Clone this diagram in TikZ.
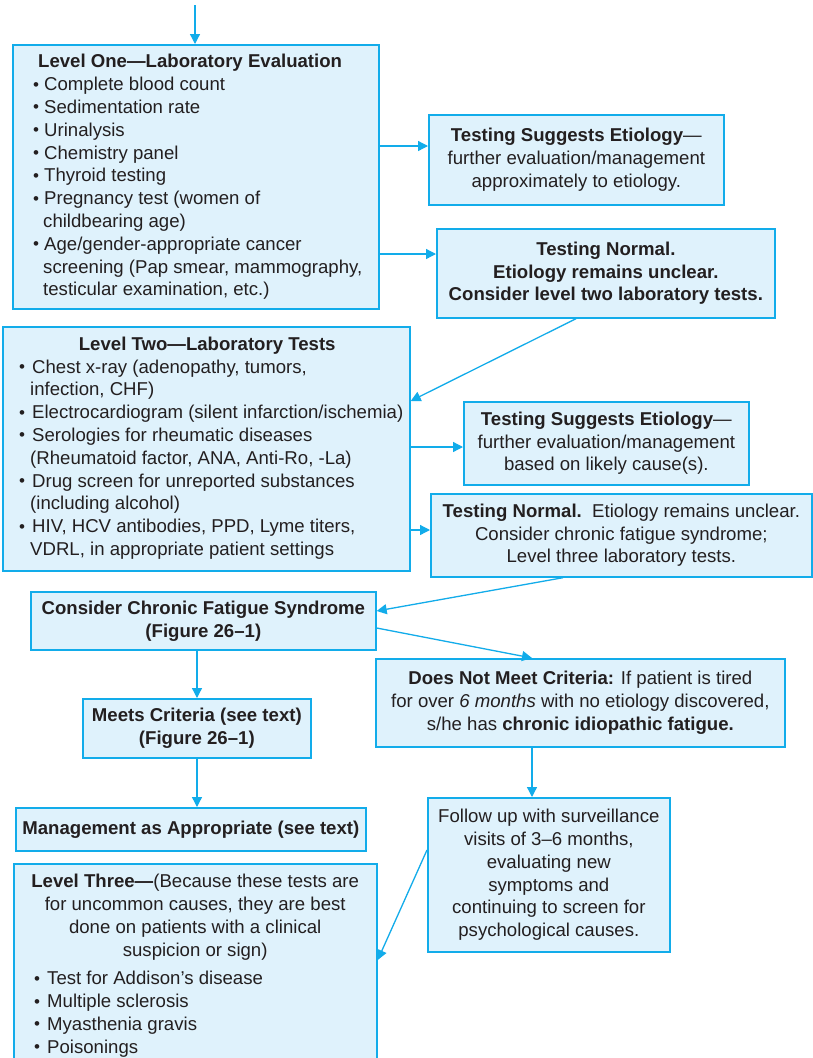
\documentclass[tikz,border=0pt]{standalone}
\usepackage{fontspec}
\setmainfont{Liberation Sans}
\usetikzlibrary{arrows.meta}
\definecolor{cyanB}{HTML}{12ACEA}
\definecolor{fillB}{HTML}{DFF2FC}
\definecolor{ink}{HTML}{231F20}
\newcommand{\bul}[1][11pt]{\makebox[#1][l]{\raisebox{0.6pt}{\fontsize{17}{17}\selectfont •}}}
\begin{document}
\begin{tikzpicture}[x=1pt,y=-1pt,
  every node/.style={font=\fontsize{18.6}{22.8}\selectfont, text=ink},
  box/.style={draw=cyanB, fill=fillB, line width=1.7pt, inner sep=0pt, anchor=north west, align=center},
  txt/.style={inner sep=0pt, align=left},
  arr/.style={draw=cyanB, line width=1.3pt, -{Triangle[length=10pt,width=10pt]}}]
\fill[white] (0,0) rectangle (813,1058);
\useasboundingbox (0,0) rectangle (813,1058);

% boxes
\node[box, minimum width=366pt, minimum height=264pt] (L1) at (12,44) {};
\node[txt, anchor=west] (L1t) at (33,177) {%
\hspace*{5pt}\textbf{Level One—Laboratory Evaluation}\\
\bul Complete blood count\\
\bul Sedimentation rate\\
\bul Urinalysis\\
\bul Chemistry panel\\
\bul Thyroid testing\\
\bul Pregnancy test (women of\\
\hspace*{10pt}childbearing age)\\
\bul Age/gender-appropriate cancer\\
\hspace*{10pt}screening (Pap smear, mammography,\\
\hspace*{10pt}testicular examination, etc.)};

\node[box, minimum width=295pt, minimum height=90pt] (TSE1) at (428,114)
  {\textbf{Testing Suggests Etiology}—\\further evaluation/management\\approximately to etiology.};
\node[box, minimum width=338pt, minimum height=89pt, font=\fontsize{18.6}{22.8}\selectfont\bfseries] (TN1) at (436,228)
  {Testing Normal.\\Etiology remains unclear.\\Consider level two laboratory tests.};

\node[box, minimum width=407pt, minimum height=244pt] (L2) at (2,326) {};
\node[txt, anchor=west] (L2t) at (19,448) {%
\makebox[376pt][c]{\textbf{Level Two—Laboratory Tests}}\\
\bul[13pt]Chest x-ray (adenopathy, tumors,\\
\hspace*{11pt}infection, CHF)\\
\bul[13pt]Electrocardiogram (silent infarction/ischemia)\\
\bul[13pt]Serologies for rheumatic diseases\\
\hspace*{11pt}(Rheumatoid factor, ANA, Anti-Ro, -La)\\
\bul[13pt]Drug screen for unreported substances\\
\hspace*{11pt}(including alcohol)\\
\bul[13pt]HIV, HCV antibodies, PPD, Lyme titers,\\
\hspace*{11pt}VDRL, in appropriate patient settings};

\node[box, minimum width=285pt, minimum height=83pt] (TSE2) at (463,401)
  {\textbf{Testing Suggests Etiology}—\\further evaluation/management\\based on likely cause(s).};
\node[box, minimum width=381pt, minimum height=83pt] (TN2) at (430,493)
  {\textbf{Testing Normal.}\ \ Etiology remains unclear.\\Consider chronic fatigue syndrome;\\Level three laboratory tests.};

\node[box, minimum width=345pt, minimum height=58pt, font=\fontsize{18.6}{22.8}\selectfont\bfseries] (CCFS) at (30,591)
  {Consider Chronic Fatigue Syndrome\\(Figure 26–1)};
\node[box, minimum width=409pt, minimum height=88pt] (DNMC) at (375,658)
  {\textbf{Does Not Meet Criteria:} If patient is tired\\for over \textit{6 months} with no etiology discovered,\\s/he has \textbf{chronic idiopathic fatigue.}};
\node[box, minimum width=228pt, minimum height=59pt, font=\fontsize{18.6}{22.8}\selectfont\bfseries] (Meets) at (82,698)
  {Meets Criteria (see text)\\(Figure 26–1)};
\node[box, minimum width=350pt, minimum height=43pt, font=\fontsize{18.6}{22.8}\selectfont\bfseries] (Mgmt) at (15,807)
  {Management as Appropriate (see text)};
\node[box, minimum width=242pt, minimum height=154pt] (FU) at (427,797)
  {Follow up with surveillance\\visits of 3–6 months,\\evaluating new\\symptoms and\\continuing to screen for\\psychological causes.};

\node[box, minimum width=363pt, minimum height=230pt] (L3) at (13,863) {};
\node[txt, anchor=north west] (L3t) at (34,874) {%
\makebox[322pt][c]{\textbf{Level Three—}(Because these tests are}\\
\makebox[322pt][c]{for uncommon causes, they are best}\\
\makebox[322pt][c]{done on patients with a clinical}\\
\makebox[322pt][c]{suspicion or sign)}\\[6pt]
\bul[13pt]Test for Addison’s disease\\
\bul[13pt]Multiple sclerosis\\
\bul[13pt]Myasthenia gravis\\
\bul[13pt]Poisonings};

% helper coordinates
\coordinate (top) at (195,5);
\coordinate (y146) at (0,146);
\coordinate (y254) at (0,254);
\coordinate (x576) at (576,0);
\coordinate (y401) at (0,401);
\coordinate (y447) at (0,447);
\coordinate (y530) at (0,530);
\coordinate (x563) at (563,0);
\coordinate (y611) at (0,611);
\coordinate (y628) at (0,628);
\coordinate (x532) at (532,0);
\coordinate (x197) at (197,0);
\coordinate (y850) at (0,850);
\coordinate (y960) at (0,960);

% connectors
\draw[arr] (top) -- (top |- L1.north);
\draw[arr] (L1.east |- y146) -- (TSE1.west |- y146);
\draw[arr] (L1.east |- y254) -- (TN1.west |- y254);
\draw[arr] (TN1.south -| x576) -- (L2.east |- y401);
\draw[arr] (L2.east |- y447) -- (TSE2.west |- y447);
\draw[arr] (L2.east |- y530) -- (TN2.west |- y530);
\draw[arr] (TN2.south -| x563) -- (CCFS.east |- y611);
\draw[arr] (CCFS.east |- y628) -- (DNMC.north -| x532);
\draw[arr] (CCFS.south -| x197) -- (Meets.north -| x197);
\draw[arr] (Meets.south -| x197) -- (Mgmt.north -| x197);
\draw[arr] (DNMC.south -| x532) -- (FU.north -| x532);
\draw[arr] (FU.west |- y850) -- (L3.east |- y960);
\end{tikzpicture}
\end{document}
